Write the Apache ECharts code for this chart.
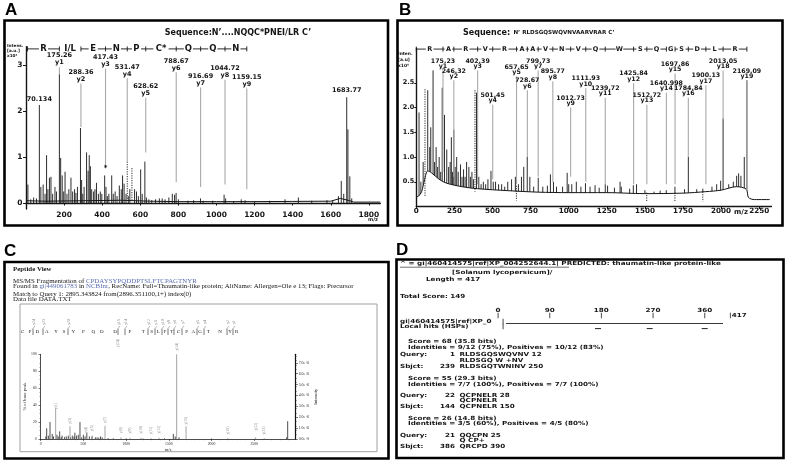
<!DOCTYPE html>
<html><head><meta charset="utf-8">
<script src="https://cdn.jsdelivr.net/npm/echarts@6/dist/echarts.min.js"></script>
<style>html,body{margin:0;padding:0;background:#fff}#c{width:786px;height:463px}</style>
</head><body><div id="c"></div>
<script>
// ================= Panel A data =================
const aXTicks = [200,400,600,800,1000,1200,1400,1600,1800];
const aYTicks = [0,1,2,3];
const aPeaks = [[10,0.4],[25,0.08],[40,0.12],[55,0.1],[70.134,2.13],[78,0.35],[90,0.4],[100,0.2],[108,1.04],[115,0.3],[123,0.55],[131,0.57],[140,0.2],[152,0.35],[160,0.25],[175.26,2.8],[182,0.98],[190,0.6],[198,0.25],[205,0.68],[215,0.2],[225,0.3],[236,0.55],[245,0.25],[255,0.3],[262,0.22],[270,0.35],[286,1.63],[292,0.5],[298,0.2],[305,0.35],[318,1.1],[326,0.7],[332,1.04],[338,0.8],[345,0.3],[355,0.25],[362,0.3],[370,0.44],[380,0.2],[390,0.25],[398,0.2],[413,0.6],[420,0.35],[427,0.15],[435,0.2],[450,0.6],[458,0.2],[468,0.25],[478,0.15],[490,0.38],[500,0.3],[507,0.6],[515,0.42],[525,0.2],[537,0.15],[545,0.3],[570,0.3],[580,0.25],[590,0.15],[602,0.73],[610,0.2],[624,0.9],[632,0.12],[645,0.08],[660,0.06],[680,0.08],[700,0.1],[715,0.1],[730,0.08],[750,0.12],[768,0.2],[780,0.18],[788,0.22],[800,0.08],[850,0.05],[880,0.06],[916,0.1],[930,0.05],[980,0.05],[1040,0.18],[1048,0.1],[1090,0.04],[1130,0.08],[1150,0.06],[1200,0.04],[1280,0.05],[1360,0.08],[1430,0.12],[1500,0.05],[1580,0.06],[1610,0.05],[1640,0.15],[1655,0.48],[1668,0.2],[1683.77,2.3],[1690,1.6],[1700,0.58],[1710,0.1]];
const aBaseline = [[0,0.05],[100,0.04],[300,0.05],[500,0.06],[650,0.04],[800,0.03],[1000,0.03],[1200,0.03],[1400,0.035],[1600,0.04],[1650,0.1],[1700,0.05],[1720,0.02],[1860,0.02]];
const aIonLabel = ['175.26','288.36','417.43','531.47','628.62','788.67','916.69','1044.72','1159.15'];
const aIonName  = ['y1','y2','y3','y4','y5','y6','y7','y8','y9'];
const aIonLabelY = [3.2,2.85,3.17,2.96,2.54,3.09,2.76,2.93,2.74];
const aIonGuideEnd = [2.8,1.65,0.75,0.9,1.1,0.45,0.35,0.4,0.3];
const aOtherLabel = ['70.134','1683.77'];
const aOtherLabelY = [2.26,2.46];
const aSeq = ['R','I/L','E','N','P','C*','Q','Q','N'];
const aSeqStart = 8;
const aSeqRowY = 3.35;
const aDotted = [[531.47,0.9,0.07],[556,0.76,0.05]];
const aStar = [[417.43,0.78]];

// ================= Panel B data =================
const bXTicks = [0,250,500,750,1000,1250,1500,1750,2000,2250];
const bYTicks = [0.5,1.0,1.5,2.0,2.5];
const bPeaks = [[18,1.9],[30,0.5],[45,0.9],[75,2.35],[88,1.2],[95,1.6],[110,2.75],[120,0.9],[130,1.2],[140,0.8],[150,1.0],[160,0.7],[170,2.4],[185,1.85],[200,1.15],[212,0.8],[222,0.9],[230,1.4],[238,0.7],[246,1.55],[255,0.8],[265,1.0],[275,0.7],[290,0.85],[300,0.6],[310,0.75],[320,0.6],[330,0.9],[345,0.8],[355,0.6],[365,0.7],[375,0.55],[395,2.3],[410,0.6],[425,0.45],[440,0.5],[455,0.45],[470,0.55],[490,0.72],[505,0.5],[520,0.5],[540,0.45],[560,0.45],[580,0.4],[600,0.5],[625,0.55],[650,0.6],[670,0.45],[690,0.6],[705,0.8],[728,1.0],[745,0.6],[770,0.4],[800,0.58],[830,0.4],[860,0.42],[880,0.65],[900,0.5],[920,0.4],[960,0.4],[990,0.68],[1000,0.45],[1020,0.45],[1050,0.5],[1080,0.4],[1110,0.47],[1140,0.4],[1173,0.43],[1200,0.38],[1240,0.45],[1255,0.42],[1300,0.38],[1337,0.5],[1345,0.4],[1400,0.36],[1424,0.43],[1445,0.45],[1500,0.33],[1560,0.3],[1600,0.32],[1640,0.33],[1697,0.4],[1760,0.35],[1785,1.0],[1840,0.35],[1880,0.36],[1940,0.4],[1971,0.45],[1997,0.52],[2013,1.78],[2050,0.45],[2080,0.5],[2102,0.62],[2115,0.67],[2130,0.62],[2152,1.0],[2169,2.55]];
const bBaseline = [[0,0.2],[15,0.21],[35,0.3],[55,0.55],[75,0.72],[100,0.68],[150,0.55],[200,0.47],[300,0.4],[400,0.36],[600,0.32],[800,0.29],[1000,0.28],[1250,0.28],[1500,0.26],[1750,0.27],[1900,0.3],[2000,0.33],[2100,0.4],[2165,0.35],[2180,0.18],[2220,0.14],[2320,0.14]];
const bIonLabel = ['175.23','246.32','402.39','501,45','657.65','728.67','799.73','895.77','1012.73','1111.93','1239,72','1425.84','1512.72','1640.998','1697.86','1784.84','1900.13','2013.05','2169.09'];
const bIonName = ['y1','y2','y3','y4','y5','y6','y7','y8','y9','y10','y11','y12','y13','y14','y15','y16','y17','y18','y19'];
const bIonLabelY = [2.94,2.74,2.94,2.25,2.82,2.54,2.94,2.72,2.19,2.58,2.39,2.68,2.25,2.49,2.88,2.39,2.64,2.94,2.74];
const bIonGuideEnd = [0.7,0.6,0.45,0.55,0.45,1.0,0.6,0.5,0.6,0.5,0.45,0.45,0.45,0.45,0.45,1.0,0.45,1.75,0.3];
const bSeq = ['R','A','R','V','R','A','A','V','N','V','Q','W','S','Q','G','S','D','L','R'];
const bSeqStart = 0;
const bSeqRowY = 3.18;
const bDotted = [[57,2.37,0.2],[385,2.35,0.3],[657,0.42,0.12],[1512,0.28,0.1],[1697,0.28,0.1],[1880,0.3,0.1]];

// ================= Panel C data =================
const cXTicks = [0,500,1000,1500,2000,2500];
const cYTicks = [0,20,40,60,80,100];
const cIntTicks = [0,1e6,2e6,3e6,4e6,5e6,6e6,7e6];
const cPeaks = [[60,3],[70,12.6],[90,4],[109,20],[135,6],[150,3],[190,5],[205,3],[222,9],[240,2],[250,4],[280,2.5],[300,3],[323,4],[350,2],[370,4],[390,3],[400,7.5],[420,4],[440,5],[460,20],[480,2],[500,5],[520,3],[540,7],[570,3],[600,3],[640,2],[660,2],[680,1.5],[700,3],[720,2],[790,1],[850,0.8],[1000,0.7],[1200,0.5],[1450,0.8],[1553,6],[1575,3],[1620,2],[2000,0.5],[2880,2],[2892,21]];
const cMatched = [[175,36],[343,15],[530,3],[604,4],[753,15.5],[940,2],[1046,1.5],[1175,1.5],[1292,1],[1385,1.5],[1592,100],[1702,15],[2190,1],[2517,2],[2618,1]];
const cMatchLabel = ['y(1)','y(3)','y(4)','y(5)','y(7)','y(8)','y(9)','y(10)','y(11)','y(12)','y(14)','y(15)','y(18)','y(22)','y(23)'];
const cMatchLabelY = [39,21.6,10.6,12.6,22.4,10.6,10,11,10,11,109,21.6,10,14.6,10];
const cSeq = ['C','P','D','A','Y','S','Y','P','Q','D','D','P','T','S','L','F','T','C','P','A','G','T','N','Y','R'];
const cSeqX = [22.7,30,37.3,46.7,56,64,73.3,83.3,93.3,101.7,115,130,143.3,151.7,158.3,165,171.7,178.3,186.7,193.3,200,208.3,220,230,236.7];
const cBarX = [33,43,68,118,125,148,155,162,168,174,182,197,204,227,233];
const cBarLabel = ['y24','y23','y20','y15','y14','y12','y11','y10','y9','y8','y7','y5','y4','y2','y1'];

// ================= Panel D text =================
const dLines = [
 [400,264,'^ = gi|460414575|ref|XP_004252644.1| PREDICTED: thaumatin-like protein-like'],
 [452,272.5,'[Solanum lycopersicum]/'],
 [426,280,'Length = 417'],
 [400,296.7,'Total Score: 149'],
 [400,321.7,'gi|460414575|ref|XP_0'],
 [400,327,'Local hits (HSPs)'],
 [408,341.7,'Score = 68 (35.8 bits)'],
 [408,347.3,'Identities = 9/12 (75%), Positives = 10/12 (83%)'],
 [408,379,'Score = 55 (29.3 bits)'],
 [408,384.3,'Identities = 7/7 (100%), Positives = 7/7 (100%)'],
 [408,418.7,'Score = 26 (14.8 bits)'],
 [408,424,'Identities = 3/5 (60%), Positives = 4/5 (80%)']
];
// alignment blocks: [y, label, startNum, seq, endNum]
const dAlign = [
 [355,'Query:','1','RLDSGQSWQVNV','12'],
 [360.7,'','','RLDSGQ W +NV',''],
 [366.7,'Sbjct:','239','RLDSGQTWNINV','250'],
 [396,'Query:','22','QCPNELR','28'],
 [401,'','','QCPNELR',''],
 [406.7,'Sbjct:','144','QCPNELR','150'],
 [435.7,'Query:','21','QQCPN','25'],
 [441,'','','Q CP+',''],
 [446.7,'Sbjct:','386','QRCPD','390']
];
const dRuler = ['0','90','180','270','360'];
const dRulerX = [498,549.7,601.3,653,704.7];
const dHitX = [598,649.7,704.7];

// ================= helpers =================
const SANS = '"DejaVu Sans", Verdana, sans-serif';
const SERIF = '"Liberation Serif", "Times New Roman", serif';
const INK = '#151515';

function spikes(xi, yi, data, color, width, dash, z) {
  return {type:'custom', xAxisIndex:xi, yAxisIndex:yi, data:data, silent:true, z:z||2,
    renderItem:(p, api) => {
      const t = api.coord([api.value(0), api.value(1)]);
      const bv = data[p.dataIndex].length > 2 ? api.value(2) : 0;
      const b = api.coord([api.value(0), bv]);
      return {type:'line', shape:{x1:t[0],y1:t[1],x2:b[0],y2:b[1]},
        style:{stroke:color, lineWidth:width, lineDash:dash||null}};
    }};
}
function ionSeries(xi, yi, mzs, labels, names, ly, ge, fs, nameGap, guideGap) {
  const data = mzs.map((m,i)=>[m, ly[i], ge ? ge[i] : null]);
  return {type:'custom', xAxisIndex:xi, yAxisIndex:yi, data:data, silent:true, z:4,
    renderItem:(p, api) => {
      const i = p.dataIndex;
      const pt = api.coord([api.value(0), api.value(1)]);
      const ch = [{type:'text', style:{x:pt[0], y:pt[1], text:labels[i], align:'center', verticalAlign:'middle', font:'bold '+fs+'px '+SANS, fill:INK}}];
      if (names) ch.push({type:'text', style:{x:pt[0], y:pt[1]+nameGap, text:names[i], align:'center', verticalAlign:'middle', font:'bold '+fs+'px '+SANS, fill:INK}});
      if (ge) {
        const q = api.coord([api.value(0), api.value(2)]);
        ch.push({type:'line', z2:-1, shape:{x1:q[0], y1:pt[1]+nameGap+guideGap, x2:q[0], y2:q[1]}, style:{stroke:'#a9a9a9', lineWidth:1.1}});
      }
      return {type:'group', children:ch};
    }};
}
function seqSeries(xi, yi, start, mzs, letters, rowY, fs) {
  const seps = [start].concat(mzs);
  const data = seps.map(m=>[m,rowY]);
  return {type:'custom', xAxisIndex:xi, yAxisIndex:yi, data:data, silent:true, z:4,
    renderItem:(p, api) => {
      const i = p.dataIndex;
      const c = api.coord([api.value(0), api.value(1)]);
      const ch = [{type:'line', shape:{x1:c[0],y1:c[1]-2.5,x2:c[0],y2:c[1]+2.5}, style:{stroke:INK,lineWidth:0.9}}];
      if (i > 0) {
        const prev = api.coord([seps[i-1], rowY]);
        const mid = (prev[0]+c[0])/2;
        const hw = letters[i-1].length*fs*0.36 + 1.5;
        ch.push({type:'text', style:{x:mid, y:c[1], text:letters[i-1], align:'center', verticalAlign:'middle', font:'bold '+fs+'px '+SANS, fill:INK}});
        if (mid-hw-prev[0] > 1.5) ch.push({type:'line', shape:{x1:prev[0],y1:c[1],x2:mid-hw,y2:c[1]}, style:{stroke:INK,lineWidth:0.9}});
        if (c[0]-(mid+hw) > 1.5) ch.push({type:'line', shape:{x1:mid+hw,y1:c[1],x2:c[0],y2:c[1]}, style:{stroke:INK,lineWidth:0.9}});
      }
      return {type:'group', children:ch};
    }};
}

const chart = echarts.init(document.getElementById('c'), null, {renderer:'canvas', width:786, height:463});

const axisBold = {fontFamily:SANS, fontWeight:'bold', color:INK};
const plain = v => String(v);

// graphic elements
const g = [];
function txt(x,y,text,opt,sy){ g.push({type:'text', x:x, y:y, scaleY:sy||1, silent:true, style:Object.assign({text:text, fill:INK, verticalAlign:'middle'}, opt||{})}); }
function rect(x,y,w,h,lw,col){ g.push({type:'rect', silent:true, shape:{x:x,y:y,width:w,height:h}, style:{fill:null, stroke:col||'#000', lineWidth:lw}}); }
function ln(x1,y1,x2,y2,lw,col){ g.push({type:'line', silent:true, shape:{x1:x1,y1:y1,x2:x2,y2:y2}, style:{stroke:col||INK, lineWidth:lw}}); }

// panel letters
['A','B','C','D'].forEach((L,i)=>{
  const pos = [[5,10],[399,10],[4,251],[396,250]][i];
  txt(pos[0],pos[1],L,{font:'bold 17px "Liberation Sans", Arial, sans-serif', fill:'#000'});
});
// frames
rect(4.5,20.5,383.5,205,2.6);
rect(397.5,20.5,385,205,2.6);
rect(4.5,262,384,196.5,2.6);
rect(396.5,259.5,387,198.5,2.6);

// A titles
txt(238,33,"Sequence:N\u2019....NQQC*PNEI/LR C\u2019",{font:'bold 8px '+SANS, align:'center'});
txt(7,43,'Intens.\n[a.u.]\nx10\u2074',{font:'bold 4.2px '+SANS, lineHeight:5, verticalAlign:'top'});
txt(373,220,'m/z',{font:'bold 5px '+SANS, align:'center'});
// B titles
txt(463,33,'{a|Sequence:} {b|N\u2019 RLDSGQSWQVNVAARVRAR C\u2019}',{rich:{a:{font:'bold 8px '+SANS, fill:INK},b:{font:'bold 5.6px '+SANS, fill:INK}}});
txt(398,51,'Inten.\n[a.u]\nx10\u2074',{font:'bold 4.4px '+SANS, lineHeight:5.8, verticalAlign:'top'});
txt(741,212.5,'m/z',{font:'bold 7px '+SANS, align:'center'});

// C text block
const blue = '#5b6fb0';
const CF = '6.9px '+SERIF;
const CS = 0.85;
txt(13,269,'Peptide View',{font:'bold 6.9px '+SERIF},CS);
txt(13,281,'{n|MS/MS Fragmentation of }{b|CPDAYSYPQDDPTSLFTCPAGTNYR}',{rich:{n:{font:CF, fill:INK},b:{font:CF, fill:blue}}},CS);
txt(13,286,'{n|Found in }{b|gi|449061783}{n| in }{b|NCBInr}{n|, RecName: Full=Thaumatin-like protein; AltName: Allergen=Ole e 13; Flags: Precursor}',{rich:{n:{font:CF, fill:INK},b:{font:CF, fill:blue}}},CS);
txt(13,294.3,'Match to Query 1: 2895.343824 from(2896.351100,1+) index(0)',{font:CF},CS);
txt(13,299.3,'Data file DATA.TXT',{font:CF},CS);
rect(20,304,357,147.7,1,'#a0a0a0');
cSeq.forEach((s,i)=>txt(cSeqX[i],331.7,s,{font:'5px '+SERIF, align:'center'}));
cBarX.forEach((x,i)=>{
  ln(x,328.5,x,335,0.8,'#555');
  ln(x,328.5,x+2,326,0.6,'#888');
  g.push({type:'text', x:x+1.5, y:322, rotation:Math.PI/2, silent:true, style:{text:cBarLabel[i], font:'3.6px '+SERIF, fill:'#777', align:'center', verticalAlign:'middle'}});
});
g.push({type:'text', x:118, y:343, rotation:Math.PI/2, silent:true, style:{text:'y(24)', font:'3.6px '+SERIF, fill:'#888', align:'center', verticalAlign:'middle'}});

// D text
const DF = 'bold 7.2px '+SANS;
const DS = 0.78;
dLines.forEach(l=>txt(l[0],l[1],l[2],{font:DF},DS));
ln(400,267.2,569,267.2,0.7,'#333');
dRuler.forEach((r,i)=>{ txt(dRulerX[i],310.7,r,{font:DF, align:'center'},DS); txt(dRulerX[i],316,'|',{font:DF, align:'center'},DS); });
txt(729,316,'|417',{font:DF},DS);
txt(503,321.7,'|',{font:DF, align:'center'},DS);
txt(503,327,'|',{font:DF, align:'center'},DS);
ln(506,323.5,723,323.5,0.9,'#222');
dHitX.forEach(x=>ln(x-3,328.6,x+3,328.6,1,'#222'));
dAlign.forEach(a=>{
  if (a[1]) txt(400,a[0],a[1],{font:DF},DS);
  if (a[2]) txt(455,a[0],a[2],{font:DF, align:'right'},DS);
  txt(459.5,a[0],a[3]+(a[4]?' '+a[4]:''),{font:DF},DS);
});

const option = {
  animation:false,
  backgroundColor:'#fff',
  textStyle:{fontFamily:SANS},
  grid:[
    {left:26, top:46.6, width:354.3, height:162.4},
    {left:416.3, top:48.1, width:355.1, height:158.4},
    {left:40.7, top:354.3, width:255, height:84.7}
  ],
  xAxis:[
    {gridIndex:0, type:'value', min:0, max:1860, z:5,
     axisLine:{lineStyle:{color:INK, width:1.4}}, splitLine:{show:false},
     axisTick:{show:true, length:2.5, customValues:aXTicks, lineStyle:{color:INK}},
     axisLabel:Object.assign({fontSize:7.5, margin:2.5, customValues:aXTicks, formatter:plain}, axisBold)},
    {gridIndex:1, type:'value', min:0, max:2330, z:5,
     axisLine:{lineStyle:{color:INK, width:1.4}}, splitLine:{show:false},
     axisTick:{show:true, length:2.5, customValues:bXTicks, lineStyle:{color:INK}},
     axisLabel:Object.assign({fontSize:7.2, margin:1.5, customValues:bXTicks, formatter:plain}, axisBold)},
    {gridIndex:2, type:'value', min:0, max:2986, z:5, name:'m/z', nameLocation:'middle', nameGap:6,
     nameTextStyle:{fontSize:4.5, fontFamily:SERIF, color:'#222'},
     axisLine:{lineStyle:{color:'#222', width:0.8}}, splitLine:{show:false},
     axisTick:{show:true, length:2, customValues:cXTicks, lineStyle:{color:'#222', width:0.6}},
     minorTick:{show:true, splitNumber:5, length:1.2, lineStyle:{color:'#444', width:0.5}},
     axisLabel:{fontSize:3.8, margin:3, customValues:cXTicks, color:'#222', fontFamily:SERIF, formatter:plain}}
  ],
  yAxis:[
    {gridIndex:0, type:'value', min:-0.13, max:3.4, z:5,
     axisLine:{lineStyle:{color:INK, width:1.4}}, splitLine:{show:false},
     axisTick:{show:true, length:3, customValues:aYTicks, lineStyle:{color:INK}},
     axisLabel:Object.assign({fontSize:7.5, margin:3.5, customValues:aYTicks, formatter:plain}, axisBold)},
    {gridIndex:1, type:'value', min:0, max:3.2, z:5,
     axisLine:{lineStyle:{color:INK, width:1.4}}, splitLine:{show:false},
     axisTick:{show:true, length:2, customValues:bYTicks, lineStyle:{color:INK}},
     axisLabel:Object.assign({fontSize:6.5, margin:2, customValues:bYTicks, formatter:v=>v.toFixed(1)}, axisBold)},
    {gridIndex:2, type:'value', min:0, max:100, z:5, name:'% of base peak', nameLocation:'middle', nameGap:13,
     nameTextStyle:{fontSize:4.6, fontFamily:SERIF, color:'#222'},
     axisLine:{lineStyle:{color:'#222', width:0.8}}, splitLine:{show:false},
     axisTick:{show:true, length:2.2, customValues:cYTicks, lineStyle:{color:'#222', width:0.6}},
     minorTick:{show:true, splitNumber:4, length:1.2, lineStyle:{color:'#444', width:0.5}},
     axisLabel:{fontSize:3.8, margin:4, customValues:cYTicks, color:'#222', fontFamily:SERIF, formatter:plain}},
    {gridIndex:2, type:'value', min:0, max:7.78e6, position:'right', z:5, name:'Intensity', nameLocation:'middle', nameGap:11,
     nameTextStyle:{fontSize:4.6, fontFamily:SERIF, color:'#222'}, nameRotate:90,
     axisLine:{show:true, lineStyle:{color:'#111', width:1.2}}, splitLine:{show:false},
     axisTick:{show:true, length:2.2, customValues:cIntTicks, lineStyle:{color:'#222', width:0.6}},
     minorTick:{show:true, splitNumber:5, length:1.2, lineStyle:{color:'#444', width:0.5}},
     axisLabel:{fontSize:3.8, margin:3, customValues:cIntTicks, color:'#222', fontFamily:SERIF,
       formatter:v=> v===0 ? '0.0e+0' : (v/1e6).toFixed(1)+'e+6'}}
  ],
  series:[
    // ---- A ----
    {type:'line', xAxisIndex:0, yAxisIndex:0, data:aBaseline, symbol:'none', silent:true, lineStyle:{color:INK, width:1}, z:2},
    spikes(0,0,aPeaks,INK,0.9),
    spikes(0,0,aDotted,INK,0.9,[1.2,1.2],3),
    ionSeries(0,0,aIonLabel.map(parseFloat),aIonLabel,aIonName,aIonLabelY,aIonGuideEnd,6.5,7,4.5),
    ionSeries(0,0,aOtherLabel.map(parseFloat),aOtherLabel,null,aOtherLabelY,null,6.5,0,0),
    seqSeries(0,0,aSeqStart,aIonLabel.map(parseFloat),aSeq,aSeqRowY,8.5),
    {type:'custom', xAxisIndex:0, yAxisIndex:0, data:aStar, silent:true, z:4,
     renderItem:(p,api)=>{const c=api.coord([api.value(0),api.value(1)]); return {type:'text', style:{x:c[0], y:c[1]+1, text:'*', align:'center', verticalAlign:'middle', font:'bold 7px '+SANS, fill:INK}};}},
    // ---- B ----
    spikes(1,1,bPeaks,INK,0.9),
    {type:'line', xAxisIndex:1, yAxisIndex:1, data:bBaseline, symbol:'none', silent:true, smooth:0.3,
     lineStyle:{color:INK, width:1}, areaStyle:{color:'#fff', opacity:1}, z:3},
    spikes(1,1,bDotted,INK,0.9,[1.2,1.2],4),
    ionSeries(1,1,bIonLabel.map(s=>parseFloat(s.replace(',','.'))),bIonLabel,bIonName,bIonLabelY,bIonGuideEnd,6.3,5.5,4),
    seqSeries(1,1,bSeqStart,bIonLabel.map(s=>parseFloat(s.replace(',','.'))),bSeq,bSeqRowY,6.5),
    // ---- C ----
    spikes(2,2,cPeaks,'#222',0.8),
    spikes(2,2,cMatched,'#9a9a9a',0.9),
    {type:'custom', xAxisIndex:2, yAxisIndex:2, data:cMatched.map((d,i)=>[d[0],cMatchLabelY[i]]), silent:true, z:4,
     renderItem:(p,api)=>{const c=api.coord([api.value(0),api.value(1)]); return {type:'text', x:c[0], y:c[1], rotation:Math.PI/2, style:{text:cMatchLabel[p.dataIndex], align:'center', verticalAlign:'middle', font:'3.6px '+SERIF, fill:'#8a8a8a'}};}}
  ],
  graphic:g
};
chart.setOption(option);
</script>
</body></html>
